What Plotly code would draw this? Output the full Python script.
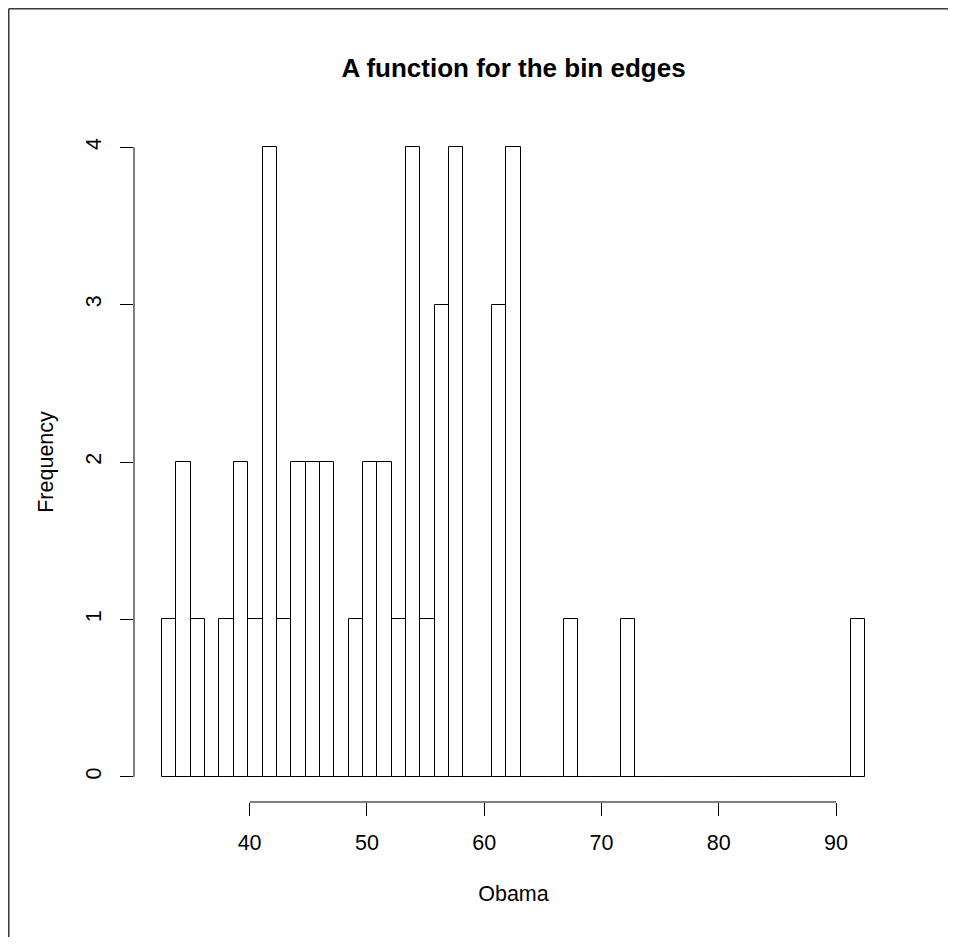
import plotly.graph_objects as go

# Data (Obama vote share by state)
bin_start = 32.54
bin_end = 92.46
counts = [1, 2, 1, 0, 1, 2, 1, 4, 1, 2, 2, 2, 0, 1, 2, 2, 1, 4, 1, 3, 4, 0, 0, 3, 4,
          0, 0, 0, 1, 0, 0, 0, 1, 0, 0, 0, 0, 0, 0, 0, 0, 0, 0, 0, 0, 0, 0, 0, 1]
x_ticks = [40, 50, 60, 70, 80, 90]
y_ticks = [0, 1, 2, 3, 4]

n_bins = len(counts)
bw = (bin_end - bin_start) / n_bins
centers = [bin_start + bw * (i + 0.5) for i in range(n_bins)]

FONT = "Liberation Sans, Arial, sans-serif"

W, H = 940, 929
ML, MR, MT, MB = 126, 55, 114, 135

fig = go.Figure(go.Bar(
    x=centers, y=counts, width=bw,
    marker=dict(color="white", line=dict(color="black", width=1)),
    hoverinfo="skip",
))

pad_x = 0.04 * (bin_end - bin_start)
pad_y = 0.04 * (max(y_ticks) - min(y_ticks))

fig.update_layout(
    width=W, height=H,
    margin=dict(l=ML, r=MR, t=MT, b=MB, pad=0),
    paper_bgcolor="white", plot_bgcolor="white",
    showlegend=False,
    font=dict(family=FONT, size=21.5, color="black"),
    title=dict(text="<b>A function for the bin edges</b>",
               font=dict(family=FONT, size=26, color="black"),
               x=(ML + (W - MR)) / 2 / W, xanchor="center",
               y=1 - 60 / H, yanchor="middle"),
    bargap=0,
    xaxis=dict(range=[bin_start - pad_x, bin_end + pad_x],
               tickvals=x_ticks, ticktext=[str(v) for v in x_ticks],
               ticks="outside", ticklen=13, tickwidth=1, tickcolor="black",
               showgrid=False, zeroline=False, showline=False,
               ticklabelstandoff=8,
               title=dict(text="Obama", standoff=32,
                          font=dict(family=FONT, size=21.5)),
               automargin=False),
    yaxis=dict(range=[min(y_ticks) - pad_y, max(y_ticks) + pad_y],
               tickvals=y_ticks, ticktext=[str(v) for v in y_ticks],
               tickangle=-90,
               ticks="outside", ticklen=13, tickwidth=1, tickcolor="black",
               showgrid=False, zeroline=False, showline=False,
               ticklabelstandoff=10,
               title=dict(text="Frequency", standoff=22,
                          font=dict(family=FONT, size=21.5)),
               automargin=False),
)

# R-style detached axis lines spanning first to last tick
fig.add_shape(type="line", xref="x", yref="paper",
              x0=x_ticks[0], x1=x_ticks[-1], y0=0, y1=0,
              line=dict(color="black", width=1))
fig.add_shape(type="line", xref="paper", yref="paper",
              x0=0, x1=0, y0=0, y1=0, visible=False)
fig.add_shape(type="line", xref="paper", yref="y",
              x0=0, x1=0, y0=y_ticks[0], y1=y_ticks[-1],
              line=dict(color="black", width=1))

# outer frame visible at the left and top of the reference image
plot_w = W - ML - MR
plot_h = H - MT - MB
fx = (0.75 - ML) / plot_w
fy = (H - MB - 0.75) / plot_h
fig.add_shape(type="line", xref="paper", yref="paper",
              x0=fx, x1=fx, y0=-1, y1=fy, line=dict(color="#3a3a3a", width=1.5))
fig.add_shape(type="line", xref="paper", yref="paper",
              x0=fx, x1=2, y0=fy, y1=fy, line=dict(color="#3a3a3a", width=1.5))

fig.write_html("out.html")
